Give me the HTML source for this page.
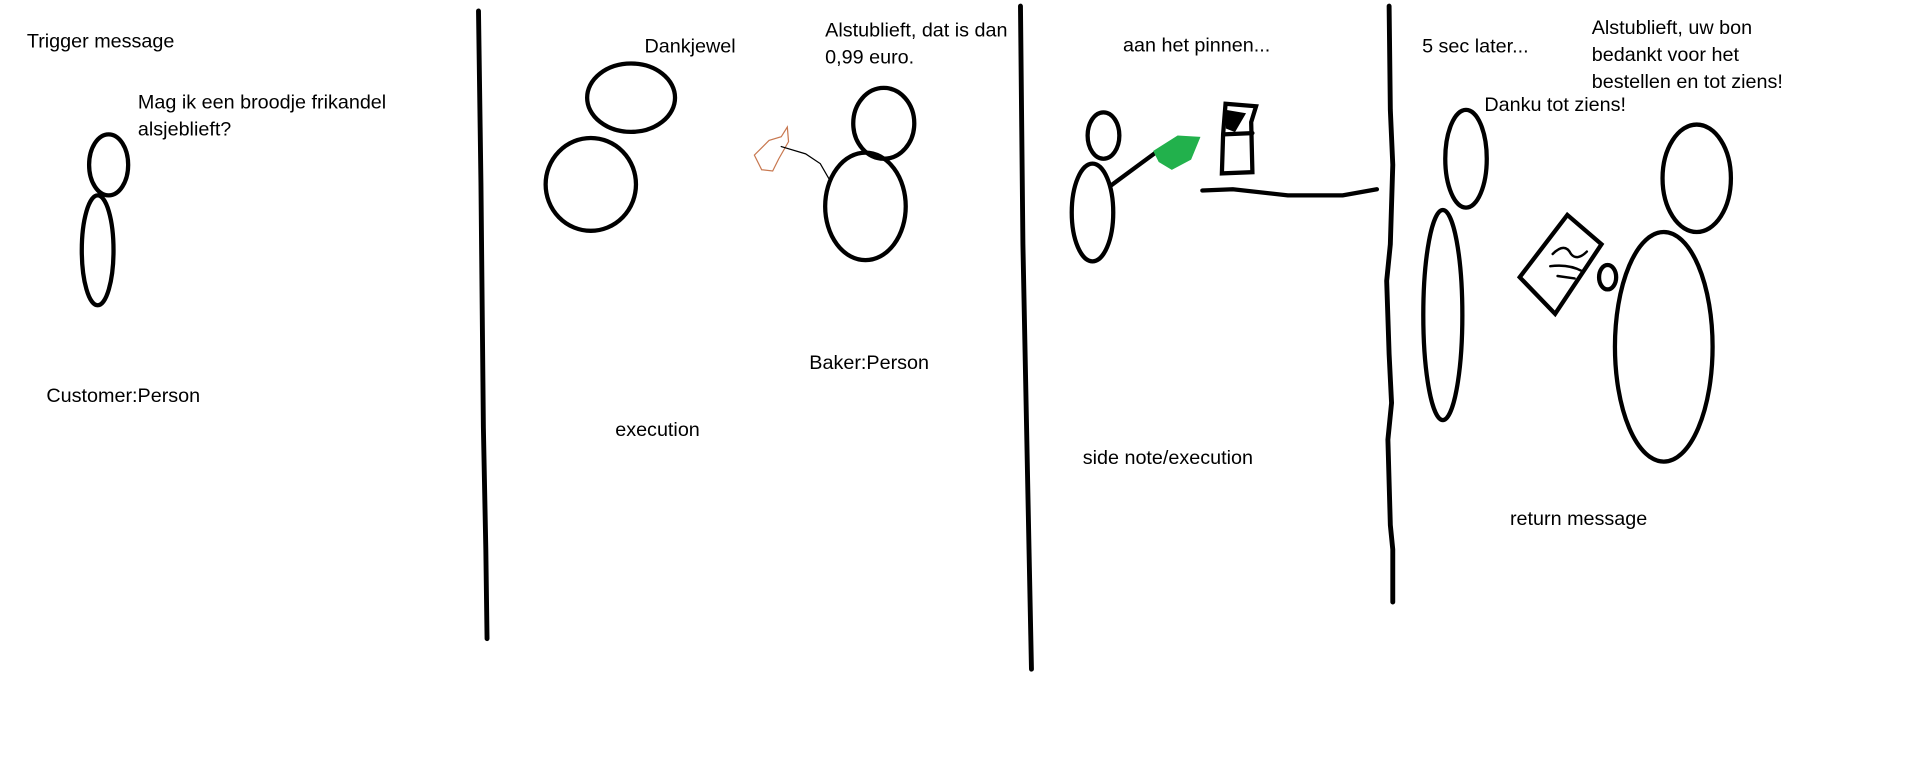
<!DOCTYPE html>
<html><head><meta charset="utf-8"><style>
html,body{margin:0;padding:0;background:#fff;overflow:hidden}
svg{display:block}
text{font-family:"Liberation Sans",sans-serif;font-size:16.2px;fill:#000}
</style></head><body>
<svg width="1914" height="773" viewBox="0 0 1568 633" preserveAspectRatio="none" xmlns="http://www.w3.org/2000/svg">
<g fill="none" stroke="#000" stroke-width="3.5" stroke-linecap="round">
<g>
<ellipse cx="89" cy="135" rx="16" ry="25"/>
<ellipse cx="80" cy="205" rx="13" ry="45"/>
</g>
<polyline stroke-width="4" points="392,9 394,150 396,350 398,450 399,523"/>
<g>
<ellipse cx="517" cy="80" rx="36" ry="28"/>
<ellipse cx="484" cy="151" rx="37" ry="38"/>
</g>
<g>
<ellipse cx="724" cy="101" rx="25" ry="29"/>
<ellipse cx="709" cy="169" rx="33" ry="44"/>
</g>
<path stroke="#c87850" stroke-width="1" d="M645,104 L646,116 L638,130 L633,140 L624,139 L618,127 L630,115 L640,112 Z"/>
<path stroke-width="1" d="M640,120 L660,126 L672,134 L680,148"/>
<polyline stroke-width="4" points="836,5 838,200 841,350 843,450 845,548"/>
<g>
<ellipse cx="904" cy="111" rx="13" ry="19"/>
<ellipse cx="895" cy="174" rx="17" ry="40"/>
<line x1="910" y1="152" x2="948" y2="124"/>
</g>
<path fill="#22b14c" stroke="#22b14c" stroke-width="2" d="M946,124 L965,112 L982,113 L975,130 L960,138 L950,132 Z"/>
<g>
<path d="M1004,85 L1029,87 L1025,100 L1026,141 L1001,142 L1002,110 Z"/>
<line x1="1002" y1="110" x2="1026" y2="109"/>
<path fill="#000" d="M1006,92 L1018,94 L1011,106 L1006,104 Z"/>
<path d="M985,156 L1010,155 L1055,160 L1100,160 L1128,155"/>
</g>
<path stroke-width="4" d="M1138,5 L1139,90 L1141,135 L1139,200 L1136,230 L1138,290 L1140,330 L1137,360 L1139,430 L1141,450 L1141,493"/>
<g>
<ellipse cx="1201" cy="130" rx="17" ry="40"/>
<ellipse cx="1182" cy="258" rx="16" ry="86"/>
</g>
<g>
<path d="M1245,227 L1284,176 L1312,200 L1274,257 Z"/>
<path stroke-width="2" d="M1272,208 Q1282,198 1287,208 Q1292,214 1300,206 M1270,218 Q1285,216 1296,222 M1276,226 L1290,228"/>
<ellipse cx="1317" cy="227" rx="7" ry="10"/>
</g>
<g>
<ellipse cx="1390" cy="146" rx="28" ry="44"/>
<ellipse cx="1363" cy="284" rx="40" ry="94"/>
</g>
</g>
<text x="22" y="39">Trigger message</text>
<text x="113" y="89">Mag ik een broodje frikandel</text>
<text x="113" y="111">alsjeblieft?</text>
<text x="38" y="329">Customer:Person</text>
<text x="528" y="43">Dankjewel</text>
<text x="676" y="30">Alstublieft, dat is dan</text>
<text x="676" y="52">0,99 euro.</text>
<text x="663" y="302">Baker:Person</text>
<text x="504" y="357">execution</text>
<text x="920" y="42">aan het pinnen...</text>
<text x="887" y="380">side note/execution</text>
<text x="1165" y="43">5 sec later...</text>
<text x="1304" y="28">Alstublieft, uw bon</text>
<text x="1304" y="50">bedankt voor het</text>
<text x="1304" y="72">bestellen en tot ziens!</text>
<text x="1216" y="91">Danku tot ziens!</text>
<text x="1237" y="430">return message</text>
</svg>
</body></html>
